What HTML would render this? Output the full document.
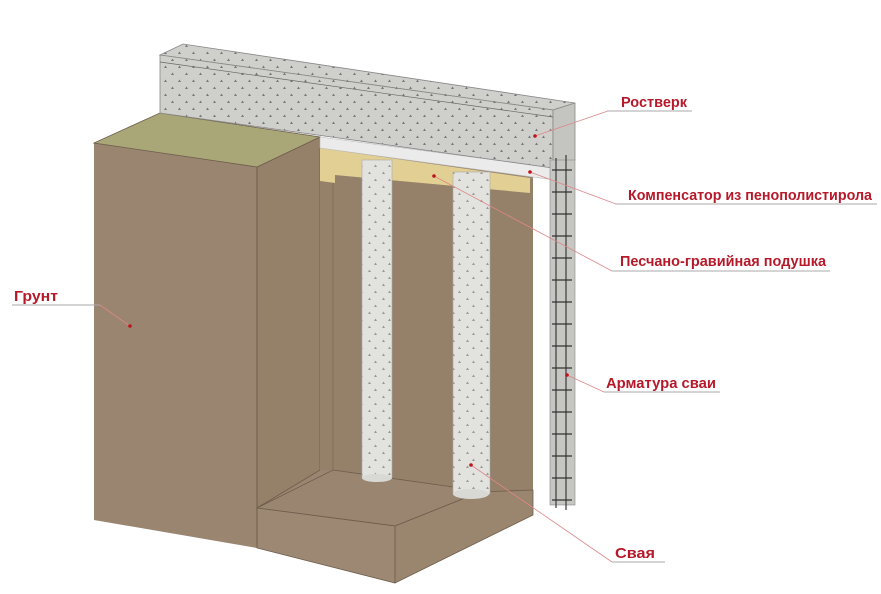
<!DOCTYPE html>
<html><head><meta charset="utf-8"><style>html,body{margin:0;padding:0;background:#fff}svg{display:block}</style></head>
<body>
<svg width="881" height="594" viewBox="0 0 881 594" xmlns="http://www.w3.org/2000/svg">
<defs>
<pattern id="dots" width="14" height="14" patternUnits="userSpaceOnUse">
<rect width="14" height="14" fill="#cfcfcc"/>
<path d="M3 5 l1.5 -2.5 l1.5 2.5z M10 12 l1.5 -2.5 l1.5 2.5z" fill="#777"/>
</pattern>
<pattern id="dots2" width="14" height="14" patternUnits="userSpaceOnUse">
<rect width="14" height="14" fill="#e2e2df"/>
<path d="M4 6 l1.5 -2.5 l1.5 2.5z M10 13 l1.5 -2.5 l1.5 2.5z" fill="#999"/>
</pattern>
</defs>
<!-- ground main -->
<polygon points="94,143 257,167 320,137 533,168 533,515 395,583 257,548 94,520" fill="#9a8570"/>
<polygon points="257,167 320,137 320,470 257,508" fill="#958069" stroke="#6e5d4c" stroke-width="0.8"/>
<polygon points="320,150 533,180 533,490 480,495 333,470 320,470" fill="#958069"/>
<polygon points="257,508 333,470 453,487 480,492 395,526" fill="#9a8670" stroke="#6e5d4c" stroke-width="0.8"/>
<polygon points="257,508 395,526 395,583 257,548" fill="#9d8873" stroke="#6e5d4c" stroke-width="0.8"/>
<polygon points="395,526 480,492 533,490 533,515 395,583" fill="#9a856e" stroke="#6e5d4c" stroke-width="0.8"/>
<line x1="257" y1="167" x2="257" y2="548" stroke="#6e5d4c" stroke-width="0.8"/>
<line x1="333" y1="178" x2="333" y2="470" stroke="#7a6856" stroke-width="0.6"/>
<line x1="490" y1="190" x2="490" y2="492" stroke="#7a6856" stroke-width="0.5"/>
<!-- green top -->
<polygon points="94,143 160,113 320,137 257,167" fill="#a9a778" stroke="#6e5d4c" stroke-width="0.8"/>
<!-- sand -->
<polygon points="320,148 530,178 530,193 335,175 335,183 320,181" fill="#e2cf93"/>
<!-- piles -->
<rect x="362" y="160" width="30" height="318" fill="url(#dots2)" stroke="#aaa" stroke-width="0.6"/>
<ellipse cx="377" cy="478" rx="15" ry="4" fill="#d8d8d5"/>
<rect x="453" y="172" width="37" height="322" fill="url(#dots2)" stroke="#aaa" stroke-width="0.6"/>
<ellipse cx="471" cy="494" rx="18" ry="5" fill="#d8d8d5"/>
<!-- compensator -->
<polygon points="320,137 555,168 555,180 320,148" fill="#ebebeb" stroke="#bbb" stroke-width="0.6"/>
<!-- rostverk -->
<polygon points="160,55 183,44 575,103 553,110" fill="url(#dots)" stroke="#888" stroke-width="0.8"/>
<polygon points="160,55 553,110 553,168 160,113" fill="url(#dots)" stroke="#888" stroke-width="0.8"/>
<polygon points="553,110 575,103 575,160 553,168" fill="#c4c4c1" stroke="#888" stroke-width="0.8"/>
<line x1="160" y1="62" x2="553" y2="117" stroke="#666" stroke-width="0.7"/>
<!-- rebar pile -->
<rect x="550" y="160" width="25" height="345" fill="#c6c6c3" stroke="#888" stroke-width="0.6"/>
<line x1="556" y1="158" x2="556" y2="508" stroke="#444" stroke-width="1.3"/>
<line x1="566" y1="155" x2="566" y2="510" stroke="#444" stroke-width="1.3"/>
<g stroke="#333" stroke-width="1.2" fill="none">
<path d="M552 170h20 M552 192h20 M552 214h20 M552 236h20 M552 258h20 M552 280h20 M552 302h20 M552 324h20 M552 346h20 M552 368h20 M552 390h20 M552 412h20 M552 434h20 M552 456h20 M552 478h20 M552 500h20"/>
</g>
<!-- leaders -->
<g stroke="#d88" stroke-width="0.8" fill="none">
<line x1="535" y1="136" x2="608" y2="111"/>
<line x1="530" y1="172" x2="616" y2="204"/>
<line x1="434" y1="176" x2="612" y2="271"/>
<line x1="567" y1="375" x2="604" y2="392"/>
<line x1="471" y1="465" x2="612" y2="562"/>
<line x1="130" y1="326" x2="100" y2="305"/>
</g>
<g stroke="#aaa" stroke-width="1">
<line x1="607" y1="111" x2="692" y2="111"/>
<line x1="615" y1="204" x2="877" y2="204"/>
<line x1="612" y1="271" x2="830" y2="271"/>
<line x1="604" y1="392" x2="720" y2="392"/>
<line x1="612" y1="562" x2="665" y2="562"/>
<line x1="12" y1="305" x2="100" y2="305"/>
</g>
<g fill="#c0141c">
<circle cx="535" cy="136" r="1.8"/><circle cx="530" cy="172" r="1.8"/><circle cx="434" cy="176" r="1.8"/>
<circle cx="567" cy="375" r="1.8"/><circle cx="471" cy="465" r="1.8"/><circle cx="130" cy="326" r="1.8"/>
</g>
<g font-family="Liberation Sans, sans-serif" font-weight="bold" font-size="15" fill="#b5192a">
<text x="621" y="107" textLength="66" lengthAdjust="spacingAndGlyphs">Ростверк</text>
<text x="628" y="200" textLength="244" lengthAdjust="spacingAndGlyphs">Компенсатор из пенополистирола</text>
<text x="620" y="266" textLength="206" lengthAdjust="spacingAndGlyphs">Песчано-гравийная подушка</text>
<text x="606" y="388" textLength="110" lengthAdjust="spacingAndGlyphs">Арматура сваи</text>
<text x="615" y="558" textLength="40" lengthAdjust="spacingAndGlyphs">Свая</text>
<text x="14" y="301" textLength="44" lengthAdjust="spacingAndGlyphs">Грунт</text>
</g>
</svg>
</body></html>
